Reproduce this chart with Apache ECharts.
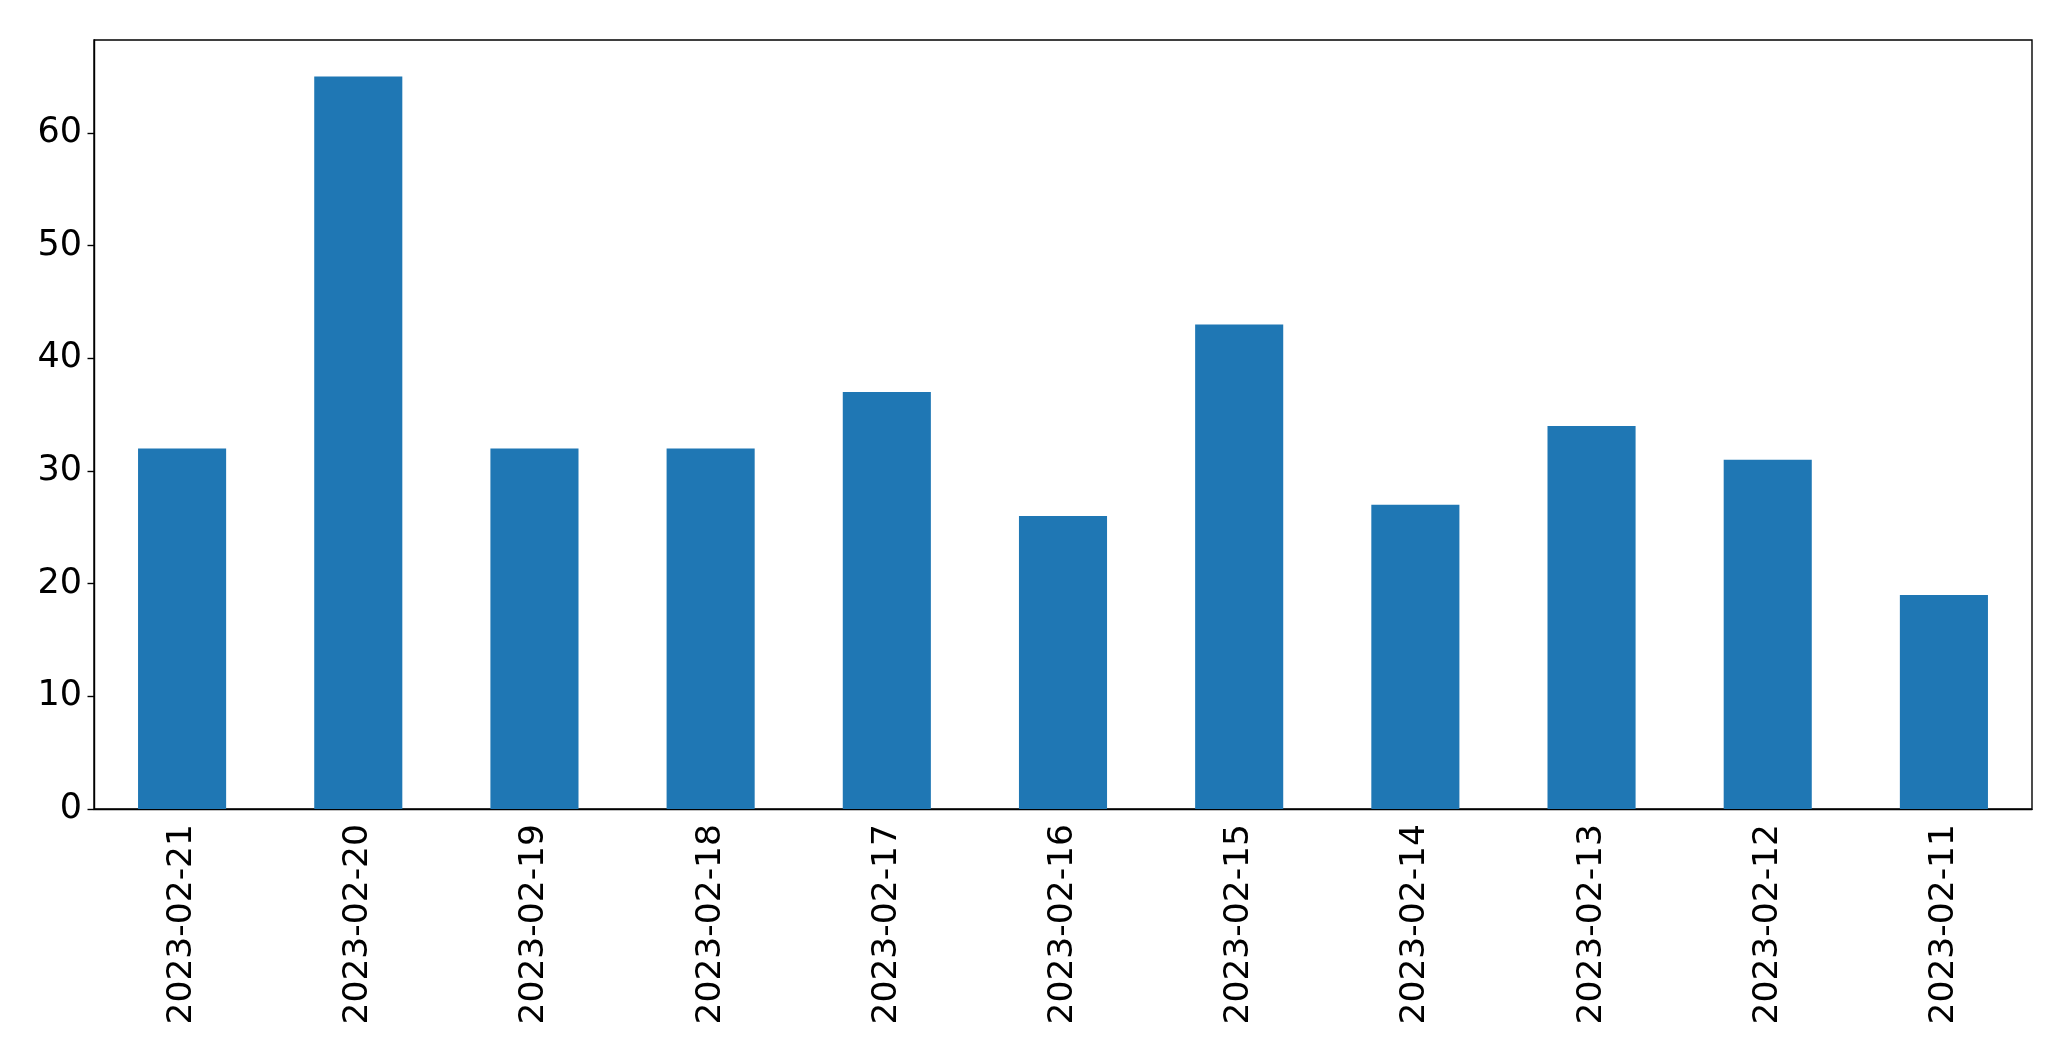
<!DOCTYPE html>
<html>
<head>
<meta charset="utf-8">
<script src="https://cdn.jsdelivr.net/npm/echarts@6/dist/echarts.min.js"></script>
<style>
html,body{margin:0;padding:0;background:#fff;}
#chart{width:2071px;height:1061px;}
</style>
</head>
<body>
<div id="chart"></div>
<script>
const categories = ["2023-02-21","2023-02-20","2023-02-19","2023-02-18","2023-02-17","2023-02-16","2023-02-15","2023-02-14","2023-02-13","2023-02-12","2023-02-11"];
const values = [32, 65, 32, 32, 37, 26, 43, 27, 34, 31, 19];
const yTicks = [0, 10, 20, 30, 40, 50, 60];

const chart = echarts.init(document.getElementById('chart'), null, {renderer: 'canvas'});
const font = 'DejaVu Sans';
chart.setOption({
  animation: false,
  backgroundColor: '#fff',
  grid: {left: 94, right: 39, top: 40, bottom: 252, show: true, borderColor: '#000', borderWidth: 1.4, backgroundColor: 'transparent'},
  xAxis: {
    type: 'category',
    data: categories,
    boundaryGap: true,
    axisLine: {lineStyle: {color: '#000', width: 1.4}},
    axisTick: {alignWithLabel: true, length: 6.5, lineStyle: {color: '#000', width: 1.4}},
    axisLabel: {rotate: 90, fontFamily: font, fontSize: 34.5, color: '#000', margin: 15, interval: 0}
  },
  yAxis: {
    type: 'value',
    min: 0,
    max: 68.25,
    interval: 10,
    splitLine: {show: false},
    axisLine: {show: true, lineStyle: {color: '#000', width: 1.4}},
    axisTick: {show: true, length: 6.5, lineStyle: {color: '#000', width: 1.4}, customValues: yTicks},
    axisLabel: {fontFamily: font, fontSize: 35, color: '#000', margin: 12, customValues: yTicks}
  },
  series: [{
    type: 'bar',
    data: values,
    barWidth: '50%',
    itemStyle: {color: '#1f77b4'}
  }]
});
</script>
</body>
</html>
